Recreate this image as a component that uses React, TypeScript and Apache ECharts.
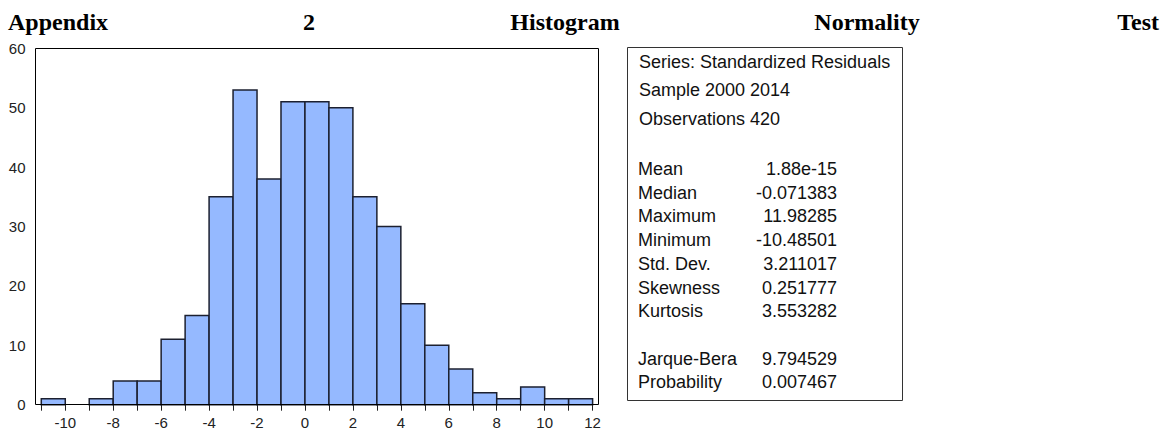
import React, { useEffect, useRef } from "react";
import * as echarts from "echarts";

// ---- data ----
const binStarts = [-11, -10, -9, -8, -7, -6, -5, -4, -3, -2, -1, 0, 1, 2, 3, 4, 5, 6, 7, 8, 9, 10, 11];
const binWidth = 1;
const counts = [1, 0, 1, 4, 4, 11, 15, 35, 53, 38, 51, 51, 50, 35, 30, 17, 10, 6, 2, 1, 3, 1, 1];

const titleWords = ["Appendix", "2", "Histogram", "Normality", "Test"];
const headerLines = ["Series: Standardized Residuals", "Sample 2000 2014", "Observations 420"];
const statLabels = ["Mean", "Median", "Maximum", "Minimum", "Std. Dev.", "Skewness", "Kurtosis", "", "Jarque-Bera", "Probability"];
const statValues = ["1.88e-15", "-0.071383", "11.98285", "-10.48501", "3.211017", "0.251777", "3.553282", "", "9.794529", "0.007467"];

const W = 1167;
const H = 433;

export default function App() {
  const ref = useRef<HTMLDivElement>(null);

  useEffect(() => {
    if (!ref.current) return;
    const chart = echarts.init(ref.current, undefined, { renderer: "svg", width: W, height: H });

    const sans = "Arial, 'Liberation Sans', sans-serif";
    const serif = "'Times New Roman', 'Liberation Serif', serif";

    const plotL = 41.3, plotR = 592.6, plotT = 48.3, plotB = 404.7;
    const frameL = 35.5, frameR = 598.5;

    const hist = binStarts.map((s, i) => [s, s + binWidth, counts[i]]);

    // title positions (justified line)
    const titleX = [8, 309, 565, 867, 1159];
    const titleAlign = ["left", "center", "center", "center", "right"];

    const graphics: any[] = [];
    titleWords.forEach((w, i) => {
      graphics.push({
        type: "text",
        x: titleX[i],
        y: 22,
        style: {
          text: w,
          font: `bold 24px ${serif}`,
          fill: "#000",
          textAlign: titleAlign[i],
          textVerticalAlign: "middle",
        },
      });
    });

    // plot frame
    graphics.push({
      type: "rect",
      shape: { x: frameL, y: 48.5, width: frameR - frameL, height: 356 },
      style: { fill: "none", stroke: "#000", lineWidth: 1 },
      z: 10,
    });

    // stats box
    graphics.push({
      type: "rect",
      shape: { x: 627.5, y: 47.5, width: 275, height: 353 },
      style: { fill: "#fff", stroke: "#333", lineWidth: 1 },
    });
    const headerY = [62, 90, 119];
    headerLines.forEach((t, i) => {
      graphics.push({
        type: "text",
        x: 639,
        y: headerY[i],
        style: { text: t, font: `18px ${sans}`, fill: "#111", textVerticalAlign: "middle" },
      });
    });
    statLabels.forEach((t, i) => {
      if (!t) return;
      const y = 169 + i * 23.7;
      graphics.push({
        type: "text",
        x: 638,
        y,
        style: { text: t, font: `18px ${sans}`, fill: "#111", textVerticalAlign: "middle" },
      });
      graphics.push({
        type: "text",
        x: 837,
        y,
        style: { text: statValues[i], font: `18px ${sans}`, fill: "#111", textAlign: "right", textVerticalAlign: "middle" },
      });
    });

    chart.setOption({
      animation: false,
      backgroundColor: "#fff",
      grid: {
        left: plotL,
        top: plotT,
        width: plotR - plotL,
        height: plotB - plotT,
        containLabel: false,
      },
      xAxis: {
        type: "value",
        min: -11,
        max: 12,
        interval: 1,
        splitLine: { show: false },
        axisLine: { show: false },
        axisTick: { show: true, length: 6, lineStyle: { color: "#222" } },
        axisLabel: {
          show: true,
          margin: 10,
          fontSize: 15,
          fontFamily: sans,
          color: "#222",
          showMinLabel: true,
          showMaxLabel: true,
          formatter: (v: number) => (v % 2 === 0 ? String(v) : ""),
        },
      },
      yAxis: {
        type: "value",
        min: 0,
        max: 60,
        interval: 10,
        offset: plotL - frameL,
        splitLine: { show: false },
        axisLine: { show: false },
        axisTick: { show: true, length: 6, lineStyle: { color: "#222" } },
        axisLabel: { margin: 10, fontSize: 15, fontFamily: sans, color: "#222" },
      },
      series: [
        {
          type: "custom",
          data: hist,
          encode: { x: [0, 1], y: 2 },
          clip: false,
          renderItem: (params: any, api: any) => {
            const x0 = api.value(0);
            const x1 = api.value(1);
            const c = api.value(2);
            if (!c) return null;
            const p0 = api.coord([x0, c]);
            const p1 = api.coord([x1, 0]);
            return {
              type: "rect",
              shape: { x: p0[0], y: p0[1], width: p1[0] - p0[0], height: p1[1] - p0[1] },
              style: { fill: "#95B9FF", stroke: "#1c2030", lineWidth: 1.5 },
            };
          },
        },
      ],
      graphic: graphics,
    });

    return () => chart.dispose();
  }, []);

  return <div ref={ref} style={{ position: "absolute", left: 0, top: 0, width: W, height: H }} />;
}
